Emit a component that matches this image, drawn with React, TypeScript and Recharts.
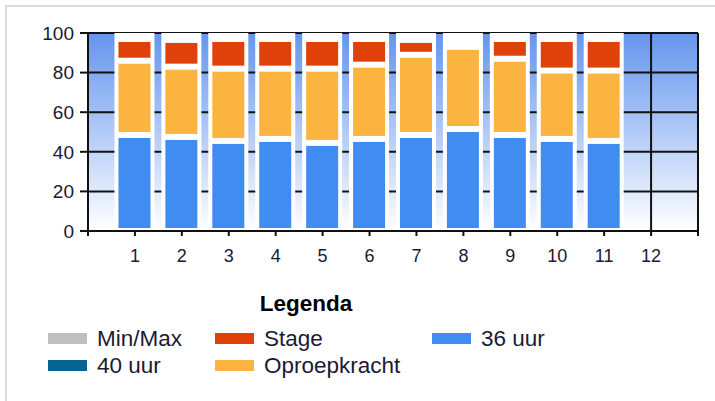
import { Bar, BarChart, CartesianGrid, XAxis, YAxis } from "recharts";

// weeks 1..11 have data, 12 is empty
const weeks = [1, 2, 3, 4, 5, 6, 7, 8, 9, 10, 11];
const uur36 = [48.5, 47.5, 45.5, 46.5, 44.5, 46.5, 48.5, 51.5, 48.5, 46.5, 45.5];
const oproepkracht = [37.5, 35.5, 36.5, 35.5, 37.5, 37.5, 40.5, 41.5, 38.5, 34.5, 35.5];
const stage = [11, 13.5, 15, 15, 15, 13, 7.5, 0, 10, 16, 16];

const xTicks = [0, 1, 2, 3, 4, 5, 6, 7, 8, 9, 10, 11, 12, 13];
const yTicks = [0, 20, 40, 60, 80, 100];

const legendNames = ["Min/Max", "40 uur", "Stage", "Oproepkracht", "36 uur"];

const COLORS: Record<string, string> = {
  "Min/Max": "#BFBFBF",
  "40 uur": "#056492",
  Stage: "#E0400A",
  Oproepkracht: "#FCB441",
  "36 uur": "#418CF0",
};

const data = weeks.map((w, i) => ({
  week: w,
  uur36: uur36[i],
  oproepkracht: oproepkracht[i],
  stage: stage[i],
}));

const INK = "#1a1a33";
const LINE = "#111";

// segment drawn inset so the white column shows round it
function InsetBar(props: any) {
  const { x, y, width, height, fill } = props;
  if (!height || height <= 6) return null;
  return (
    <rect x={x + 4} y={y + 3} width={width - 8} height={height - 6} fill={fill} />
  );
}

export default function App() {
  return (
    <div
      style={{
        position: "fixed",
        left: 0,
        top: 0,
        width: 715,
        height: 401,
        background: "#fff",
        fontFamily: "'Liberation Sans', Arial, sans-serif",
      }}
    >
      <div
        style={{
          position: "absolute",
          left: 5,
          top: 5,
          right: 0,
          bottom: 0,
          borderTop: "2px solid #dcdcdc",
          borderLeft: "2px solid #dcdcdc",
        }}
      />
      <div style={{ position: "absolute", left: 0, top: 0 }}>
        <BarChart
          width={715}
          height={401}
          data={data}
          barSize={40}
          margin={{ top: 33, right: 17, bottom: 140, left: 0 }}
        >
          <defs>
            <linearGradient id="plotBg" x1="0" y1="0" x2="0" y2="1">
              <stop offset="0" stopColor="#6495ED" />
              <stop offset="1" stopColor="#FFFFFF" />
            </linearGradient>
          </defs>
          <CartesianGrid fill="url(#plotBg)" fillOpacity={1} stroke={LINE} strokeWidth={2} />
          <XAxis
            type="number"
            dataKey="week"
            domain={[0, 13]}
            ticks={xTicks}
            interval={0}
            height={30}
            tickFormatter={(v) => (v === 0 || v === 13 ? "" : String(v))}
            tickSize={5}
            tickMargin={13}
            axisLine={{ stroke: LINE, strokeWidth: 2 }}
            tickLine={{ stroke: LINE, strokeWidth: 2 }}
            tick={{ fill: INK, fontSize: 18 }}
          />
          <YAxis
            domain={[0, 100]}
            ticks={yTicks}
            width={88}
            tickSize={8}
            tickMargin={6}
            axisLine={{ stroke: LINE, strokeWidth: 2 }}
            tickLine={{ stroke: LINE, strokeWidth: 2 }}
            tick={{ fill: INK, fontSize: 19 }}
          />
          <Bar
            dataKey="uur36"
            name="36 uur"
            stackId="a"
            fill={COLORS["36 uur"]}
            background={{ fill: "#fff" }}
            shape={InsetBar}
            isAnimationActive={false}
          />
          <Bar
            dataKey="oproepkracht"
            name="Oproepkracht"
            stackId="a"
            fill={COLORS.Oproepkracht}
            shape={InsetBar}
            isAnimationActive={false}
          />
          <Bar
            dataKey="stage"
            name="Stage"
            stackId="a"
            fill={COLORS.Stage}
            shape={InsetBar}
            isAnimationActive={false}
          />
        </BarChart>
      </div>

      <div
        style={{
          position: "absolute",
          left: 206,
          top: 290,
          width: 200,
          height: 27,
          lineHeight: "27px",
          textAlign: "center",
          fontWeight: "bold",
          fontSize: 22.5,
          color: "#000",
        }}
      >
        Legenda
      </div>
      <div
        style={{
          position: "absolute",
          left: 48,
          top: 325,
          display: "grid",
          gridTemplateColumns: "167px 217px auto",
          gridTemplateRows: "27px 27px",
          gridAutoFlow: "column",
          fontSize: 22.5,
          color: INK,
        }}
      >
        {legendNames.map((name) => (
          <div key={name} style={{ display: "flex", alignItems: "center", height: 27 }}>
            <span
              style={{
                display: "inline-block",
                width: 39,
                height: 11,
                background: COLORS[name],
                marginRight: 10,
              }}
            />
            <span style={{ lineHeight: "27px" }}>{name}</span>
          </div>
        ))}
      </div>
    </div>
  );
}
